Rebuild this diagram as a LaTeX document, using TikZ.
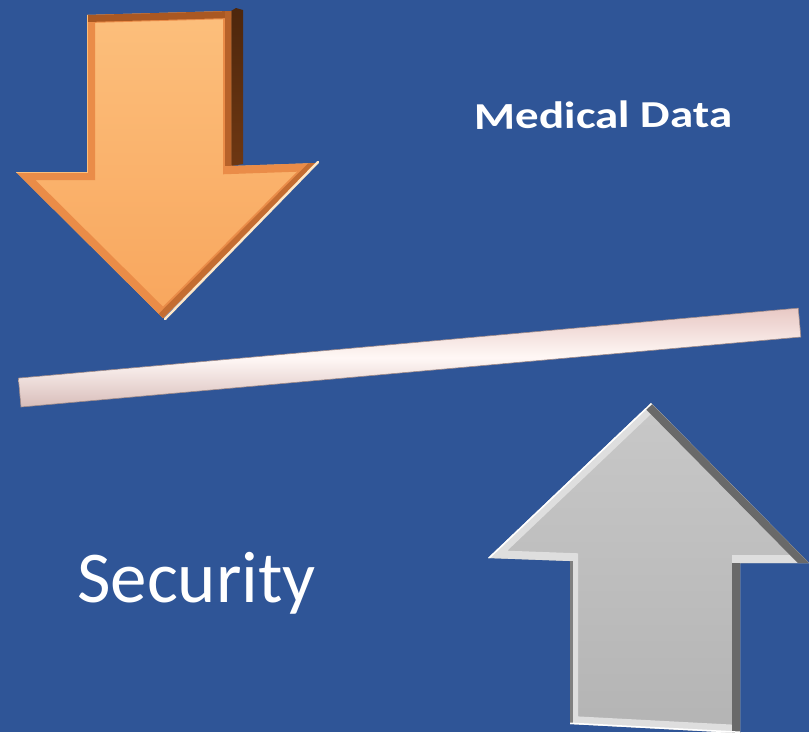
\documentclass[tikz,border=0pt]{standalone}
\usepackage{fontspec}
\setmainfont{Carlito}
\definecolor{bg}{RGB}{47,85,151}
\definecolor{orFace}{RGB}{248,165,92}
\definecolor{orLight}{RGB}{252,192,125}
\definecolor{orBevel}{RGB}{234,140,72}
\definecolor{orDark}{RGB}{170,88,34}
\definecolor{orSide}{RGB}{110,55,18}
\definecolor{orCream}{RGB}{255,232,200}
\definecolor{gyFace}{RGB}{180,180,180}
\definecolor{gyLight}{RGB}{200,200,200}
\definecolor{gyBevel}{RGB}{222,222,222}
\definecolor{gyDark}{RGB}{105,105,105}
\definecolor{barEdge}{RGB}{232,200,196}
\definecolor{barMid}{RGB}{255,248,246}
\tikzset{
  lbl/.style={text=white, inner sep=0pt},
}
\begin{document}
\begin{tikzpicture}[x=1pt,y=-1pt]
\fill[bg] (0,0) rectangle (809,732);
\useasboundingbox (0,0) rectangle (809,732);

% ---------- orange arrow (down) ----------
\shade[top color=orSide!70!black, bottom color=orSide] (231,11) -- (236,8) -- (243,10) -- (243,164) -- (231,166) -- cycle;
\begin{scope}
  \clip (87,15) -- (231,11) -- (231,166) -- (317,163) -- (163,318) -- (16,172) -- (87,172) -- cycle;
  \shade[top color=orLight, bottom color=orFace] (0,0) rectangle (330,330);
  \draw[orBevel, line width=16pt, line join=miter] (87,15) -- (231,11) -- (231,166) -- (317,163) -- (163,318) -- (16,172) -- (87,172) -- cycle;
  \draw[orDark, line width=14pt] (87,15) -- (231,11);
  \draw[orDark!80!orBevel, line width=12pt] (231,11) -- (231,166);
  \draw[orDark!60!orBevel, line width=12pt] (317,163) -- (163,318);
  \draw[orLight, line width=2pt] (87,15) -- (87,172) -- (16,172);
\end{scope}
\draw[orCream, line width=2.5pt, line cap=round] (318,162) -- (165,319);

% ---------- gray arrow (up) ----------
\begin{scope}
  \clip (651,403) -- (809,563) -- (740,563) -- (740,733) -- (570,724) -- (570,561) -- (488,558) -- cycle;
  \shade[top color=gyLight, bottom color=gyFace] (480,400) rectangle (809,732);
  \draw[gyBevel, line width=16pt, line join=miter] (651,403) -- (809,563) -- (740,563) -- (740,733) -- (570,724) -- (570,561) -- (488,558) -- cycle;
  \draw[gyDark, line width=16pt] (651,403) -- (809,563);
  \draw[gyDark, line width=16pt] (740,563) -- (740,733);
  \draw[gray, line width=6pt] (570,561) -- (570,724);
  \draw[white, line width=3pt] (488,558) -- (651,403);
  \draw[white, line width=3pt] (570,724) -- (740,733);
\end{scope}

% ---------- bar ----------
\begin{scope}[shift={(21,407)}, rotate=5.13]
  \shade[top color=barEdge, bottom color=barEdge!85!gray, middle color=barMid]
    (0,0) rectangle (783,-29);
  \draw[barEdge!70!black, line width=0.6pt] (0,0) rectangle (783,-29);
\end{scope}

% ---------- texts ----------
\node[lbl, anchor=base west, xscale=1.24, rotate=0.5] (med) at (474,129)
  {\fontsize{38}{38}\selectfont\bfseries Medical Data};
\node[lbl, anchor=base west] (sec) at (77,602)
  {\fontsize{73}{73}\selectfont Security};
\end{tikzpicture}
\end{document}
